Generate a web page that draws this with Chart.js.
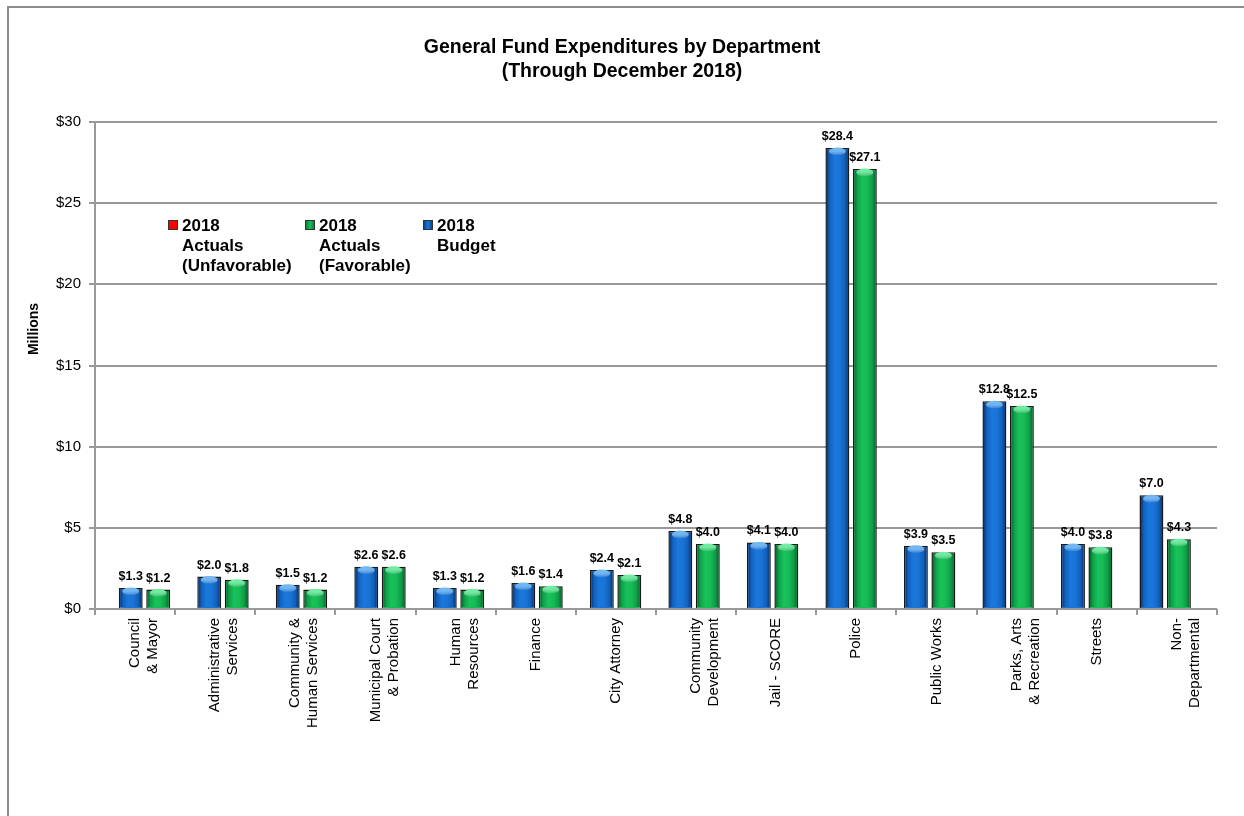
<!DOCTYPE html>
<html lang="en">
<head>
    <meta charset="UTF-8">
    <title>General Fund Expenditures by Department</title>
    <script src="https://cdn.jsdelivr.net/npm/chart.js"></script>
    <style>
        html, body {
            margin: 0;
            padding: 0;
            background: #fff;
            overflow: hidden;
        }
        .wrap {
            position: relative;
            width: 1244px;
            height: 816px;
        }
    </style>
</head>
<body>

    <div class="wrap">
        <canvas id="deptChart"></canvas>
    </div>

    <script>
        // Data (millions)
        var departments = [
            ['Council', '& Mayor'],
            ['Administrative', 'Services'],
            ['Community &', 'Human Services'],
            ['Municipal Court', '& Probation'],
            ['Human', 'Resources'],
            'Finance',
            'City Attorney',
            ['Community', 'Development'],
            'Jail - SCORE',
            'Police',
            'Public Works',
            ['Parks, Arts', '& Recreation'],
            'Streets',
            ['Non-', 'Departmental']
        ];
        var budget2018 = [1.3, 2.0, 1.5, 2.6, 1.3, 1.6, 2.4, 4.8, 4.1, 28.4, 3.9, 12.8, 4.0, 7.0];
        var actuals2018 = [1.2, 1.8, 1.2, 2.6, 1.2, 1.4, 2.1, 4.0, 4.0, 27.1, 3.5, 12.5, 3.8, 4.3];
        var yTicks = [0, 5, 10, 15, 20, 25, 30];
        var titleLines = ['General Fund Expenditures by Department', '(Through December 2018)'];

        // actuals split into favorable (at or under budget) and unfavorable
        var favorable = actuals2018.map(function (v, i) { return v <= budget2018[i] ? v : null; });
        var unfavorable = actuals2018.map(function (v, i) { return v > budget2018[i] ? v : null; });

        function points(arr) {
            return arr.map(function (v, i) { return { x: i, y: v }; });
        }

        var FONT = '"Liberation Sans", Arial, sans-serif';

        var shades = {
            blue: ['#0b3a78', '#1262c0', '#1a78dc', '#1a74d6', '#1160bb', '#0b3a78', '#6db8f5'],
            green: ['#0a6c32', '#10a048', '#19c25b', '#16bb56', '#0f9c46', '#0a6c32', '#6cf0a0'],
            red: ['#8a0000', '#d00000', '#ff1a1a', '#f51010', '#cc0000', '#8a0000', '#ff8080']
        };

        // title, legend, frame, bar shading and value labels
        var decorations = {
            id: 'decorations',
            beforeDraw: function (chart) {
                var ctx = chart.ctx;
                ctx.save();
                ctx.fillStyle = '#fff';
                ctx.fillRect(0, 0, chart.width, chart.height);
                ctx.restore();
            },
            afterDatasetsDraw: function (chart) {
                var ctx = chart.ctx;
                ctx.save();
                chart.data.datasets.forEach(function (ds, di) {
                    var meta = chart.getDatasetMeta(di);
                    var sh = shades[ds.shade];
                    meta.data.forEach(function (el, i) {
                        if (ds.data[i].y === null) return;
                        var p = el.getProps(['x', 'y', 'base', 'width'], true);
                        var b = 1.5;
                        var l = p.x - p.width / 2 + b, r = p.x + p.width / 2 - b;
                        var t = Math.min(p.y, p.base) + b, btm = Math.max(p.y, p.base) - 1;
                        var g = ctx.createLinearGradient(l, 0, r, 0);
                        g.addColorStop(0, sh[0]);
                        g.addColorStop(0.14, sh[1]);
                        g.addColorStop(0.38, sh[2]);
                        g.addColorStop(0.62, sh[3]);
                        g.addColorStop(0.86, sh[4]);
                        g.addColorStop(1, sh[5]);
                        ctx.fillStyle = g;
                        ctx.fillRect(l, t, r - l, btm - t);
                        // highlight at the top of the bar
                        var hg = ctx.createLinearGradient(0, t, 0, t + 6);
                        hg.addColorStop(0, sh[6]);
                        hg.addColorStop(1, 'rgba(255,255,255,0)');
                        ctx.fillStyle = hg;
                        ctx.beginPath();
                        ctx.ellipse(p.x, t + 2, (r - l) / 2 - 2, 4, 0, 0, Math.PI * 2);
                        ctx.fill();
                    });
                });

                // value labels
                ctx.fillStyle = '#000';
                ctx.font = 'bold 12.5px ' + FONT;
                ctx.textAlign = 'center';
                ctx.textBaseline = 'alphabetic';
                chart.data.datasets.forEach(function (ds, di) {
                    var meta = chart.getDatasetMeta(di);
                    meta.data.forEach(function (el, i) {
                        var v = ds.data[i].y;
                        if (v === null) return;
                        ctx.fillText('$' + v.toFixed(1), el.x, el.y - 8);
                    });
                });
                ctx.restore();
            },
            afterDraw: function (chart) {
                var ctx = chart.ctx;
                ctx.save();

                // outer frame (runs off the right and bottom)
                ctx.strokeStyle = '#8c8c8c';
                ctx.lineWidth = 2;
                ctx.strokeRect(8, 7, 1400, 1000);

                // title
                ctx.fillStyle = '#000';
                ctx.font = 'bold 19.5px ' + FONT;
                ctx.textAlign = 'center';
                ctx.textBaseline = 'middle';
                ctx.fillText(titleLines[0], 622, 48);
                ctx.fillText(titleLines[1], 622, 72);

                // y axis title
                ctx.save();
                ctx.translate(34, 329);
                ctx.rotate(-Math.PI / 2);
                ctx.font = 'bold 14px ' + FONT;
                ctx.fillText('Millions', 0, 0);
                ctx.restore();

                // legend
                var items = [
                    { shade: 'red', lines: ['2018', 'Actuals', '(Unfavorable)'], x: 168 },
                    { shade: 'green', lines: ['2018', 'Actuals', '(Favorable)'], x: 305 },
                    { shade: 'blue', lines: ['2018', 'Budget'], x: 423 }
                ];
                ctx.font = 'bold 17px ' + FONT;
                ctx.textAlign = 'left';
                ctx.textBaseline = 'middle';
                items.forEach(function (it) {
                    var sh = shades[it.shade];
                    var g = ctx.createLinearGradient(it.x, 0, it.x + 10, 0);
                    g.addColorStop(0, sh[0]);
                    g.addColorStop(0.5, sh[2]);
                    g.addColorStop(1, sh[5]);
                    ctx.fillStyle = it.shade === 'red' ? '#ff0000' : g;
                    ctx.fillRect(it.x, 220, 10, 10);
                    ctx.strokeStyle = '#333';
                    ctx.lineWidth = 1;
                    ctx.strokeRect(it.x + 0.5, 220.5, 9, 9);
                    ctx.fillStyle = '#000';
                    it.lines.forEach(function (s, k) {
                        ctx.fillText(s, it.x + 14, 226 + k * 20);
                    });
                });
                ctx.restore();
            }
        };

        var ctx = document.getElementById('deptChart').getContext('2d');
        var deptChart = new Chart(ctx, {
            type: 'bar',
            data: {
                datasets: [{
                    label: '2018 Budget',
                    data: points(budget2018),
                    stack: 'budget',
                    shade: 'blue',
                    xAxisID: 'xb',
                    backgroundColor: '#1a74d6',
                    borderColor: '#1a1a1a',
                    borderWidth: 1.5
                }, {
                    label: '2018 Actuals (Favorable)',
                    data: points(favorable),
                    stack: 'actuals',
                    shade: 'green',
                    xAxisID: 'xb',
                    backgroundColor: '#16bb56',
                    borderColor: '#1a1a1a',
                    borderWidth: 1.5
                }, {
                    label: '2018 Actuals (Unfavorable)',
                    data: points(unfavorable),
                    stack: 'actuals',
                    shade: 'red',
                    xAxisID: 'xb',
                    backgroundColor: '#f51010',
                    borderColor: '#1a1a1a',
                    borderWidth: 1.5
                }]
            },
            options: {
                responsive: true,
                maintainAspectRatio: false,
                animation: false,
                categoryPercentage: 0.70,
                barPercentage: 0.87,
                layout: { padding: { top: 122, right: 27, left: 0, bottom: 0 } },
                plugins: {
                    legend: { display: false },
                    title: { display: false },
                    tooltip: { enabled: false }
                },
                scales: {
                    // hidden axis the bars sit on (Excel spaces them slightly tighter than the categories)
                    xb: {
                        type: 'linear',
                        position: 'bottom',
                        display: false,
                        offset: false,
                        min: -0.63,
                        max: 13.66,
                        ticks: { stepSize: 1, includeBounds: false }
                    },
                    x: {
                        type: 'category',
                        position: 'bottom',
                        labels: departments,
                        offset: true,
                        afterFit: function (scale) { scale.height = 207; },
                        grid: {
                            offset: true,
                            drawOnChartArea: false,
                            color: '#999',
                            lineWidth: 2,
                            tickLength: 6
                        },
                        border: { display: false },
                        ticks: {
                            autoSkip: false,
                            minRotation: 90,
                            maxRotation: 90,
                            padding: 3,
                            color: '#000',
                            font: { family: FONT, size: 15 }
                        }
                    },
                    y: {
                        min: 0,
                        max: 30,
                        afterFit: function (scale) { scale.width = 95; },
                        afterBuildTicks: function (scale) {
                            scale.ticks = yTicks.map(function (v) { return { value: v }; });
                        },
                        grid: {
                            color: '#999',
                            lineWidth: 2,
                            tickLength: 6
                        },
                        border: { color: '#999', width: 2 },
                        ticks: {
                            padding: 8,
                            color: '#000',
                            font: { family: FONT, size: 15 },
                            callback: function (v) { return '$' + v; }
                        }
                    }
                }
            },
            plugins: [decorations]
        });
    </script>

</body>
</html>
